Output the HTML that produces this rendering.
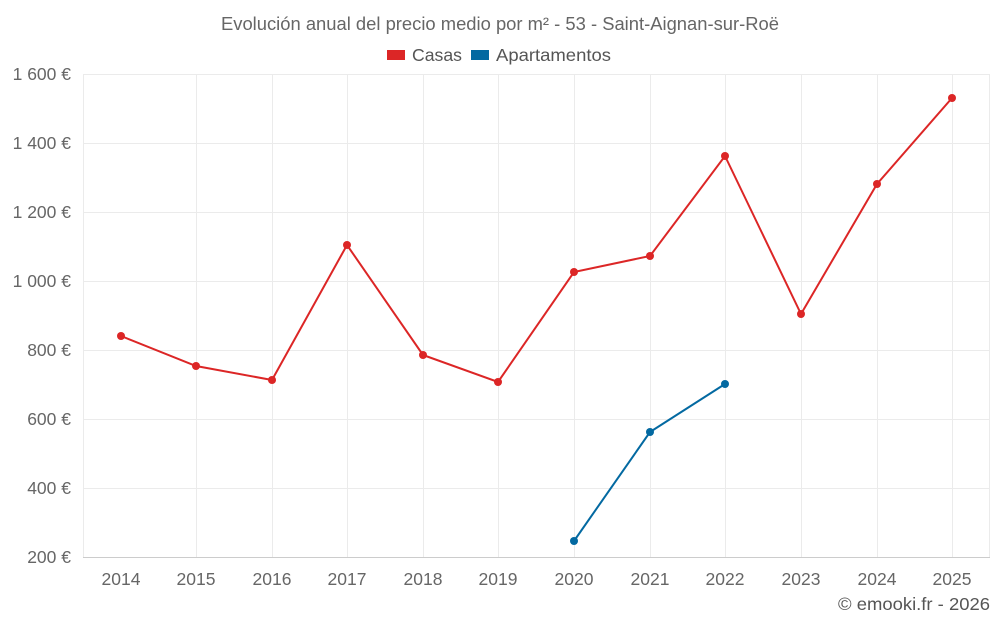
<!DOCTYPE html>
<html><head><meta charset="utf-8"><style>
body{margin:0;background:#fff;}
svg{display:block;font-family:"Liberation Sans",sans-serif;}
</style></head><body>
<svg width="1000" height="625" xmlns="http://www.w3.org/2000/svg">
<rect width="1000" height="625" fill="#fff"/>
<text x="500" y="30" text-anchor="middle" font-size="18" fill="#666" textLength="558" lengthAdjust="spacingAndGlyphs">Evolución anual del precio medio por m² - 53 - Saint-Aignan-sur-Roë</text>
<rect x="387" y="50" width="18" height="10" fill="#dc2626"/>
<text x="412" y="61" font-size="17.5" fill="#555" textLength="50" lengthAdjust="spacingAndGlyphs">Casas</text>
<rect x="471" y="50" width="18" height="10" fill="#0369a1"/>
<text x="496" y="61" font-size="17.5" fill="#555" textLength="115" lengthAdjust="spacingAndGlyphs">Apartamentos</text>
<g stroke="#ebebeb" stroke-width="1">
<line x1="83" y1="74.5" x2="990" y2="74.5"/>
<line x1="83" y1="143.5" x2="990" y2="143.5"/>
<line x1="83" y1="212.5" x2="990" y2="212.5"/>
<line x1="83" y1="281.5" x2="990" y2="281.5"/>
<line x1="83" y1="350.5" x2="990" y2="350.5"/>
<line x1="83" y1="419.5" x2="990" y2="419.5"/>
<line x1="83" y1="488.5" x2="990" y2="488.5"/>
<line x1="83.5" y1="74" x2="83.5" y2="557"/>
<line x1="196.5" y1="74" x2="196.5" y2="557"/>
<line x1="272.5" y1="74" x2="272.5" y2="557"/>
<line x1="347.5" y1="74" x2="347.5" y2="557"/>
<line x1="423.5" y1="74" x2="423.5" y2="557"/>
<line x1="498.5" y1="74" x2="498.5" y2="557"/>
<line x1="574.5" y1="74" x2="574.5" y2="557"/>
<line x1="650.5" y1="74" x2="650.5" y2="557"/>
<line x1="725.5" y1="74" x2="725.5" y2="557"/>
<line x1="801.5" y1="74" x2="801.5" y2="557"/>
<line x1="877.5" y1="74" x2="877.5" y2="557"/>
<line x1="952.5" y1="74" x2="952.5" y2="557"/>
<line x1="989.5" y1="74" x2="989.5" y2="557"/>
</g>
<line x1="83" y1="557.5" x2="990" y2="557.5" stroke="#ccc"/>
<g font-size="17.5" fill="#666" text-anchor="end">
<text x="71" y="80">1 600 €</text>
<text x="71" y="149">1 400 €</text>
<text x="71" y="218">1 200 €</text>
<text x="71" y="287">1 000 €</text>
<text x="71" y="356">800 €</text>
<text x="71" y="425">600 €</text>
<text x="71" y="494">400 €</text>
<text x="71" y="563">200 €</text>
</g>
<g font-size="17.5" fill="#666" text-anchor="middle">
<text x="121" y="585">2014</text><text x="196" y="585">2015</text><text x="272" y="585">2016</text>
<text x="347" y="585">2017</text><text x="423" y="585">2018</text><text x="498" y="585">2019</text>
<text x="574" y="585">2020</text><text x="650" y="585">2021</text><text x="725" y="585">2022</text>
<text x="801" y="585">2023</text><text x="877" y="585">2024</text><text x="952" y="585">2025</text>
</g>
<text x="990" y="610" text-anchor="end" font-size="17.5" fill="#555" textLength="152" lengthAdjust="spacingAndGlyphs">© emooki.fr - 2026</text>
<polyline fill="none" stroke="#dc2626" stroke-width="2" points="121,336 196,366 272,380 347,245 423,355 498,382 574,272 650,256 725,156 801,314 877,184 952,98"/>
<g fill="#dc2626">
<circle cx="121" cy="336" r="4"/><circle cx="196" cy="366" r="4"/><circle cx="272" cy="380" r="4"/>
<circle cx="347" cy="245" r="4"/><circle cx="423" cy="355" r="4"/><circle cx="498" cy="382" r="4"/>
<circle cx="574" cy="272" r="4"/><circle cx="650" cy="256" r="4"/><circle cx="725" cy="156" r="4"/>
<circle cx="801" cy="314" r="4"/><circle cx="877" cy="184" r="4"/><circle cx="952" cy="98" r="4"/>
</g>
<polyline fill="none" stroke="#0369a1" stroke-width="2" points="574,541 650,432 725,384"/>
<g fill="#0369a1"><circle cx="574" cy="541" r="4"/><circle cx="650" cy="432" r="4"/><circle cx="725" cy="384" r="4"/></g>
</svg>
</body></html>
